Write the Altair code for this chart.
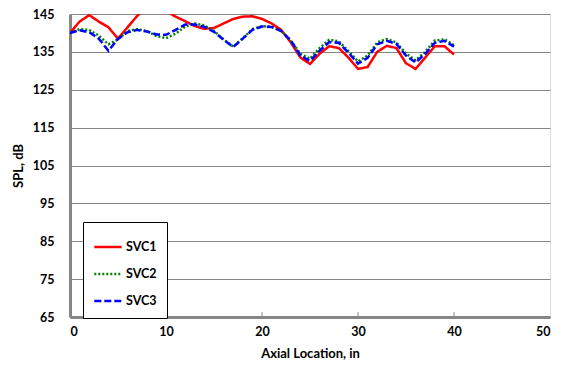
import altair as alt
import pandas as pd

axial = list(range(0, 41))

svc1 = [140, 143, 144.7, 143, 141.5, 138.5, 141.5, 144.5, 147, 147,
        145.8, 144.3, 143.1, 141.8, 141.1, 141.3, 142.5, 143.7, 144.3, 144.4,
        143.7, 142.5, 140.8, 137.5, 133.5, 131.8, 134.5, 136.5, 136, 133.5,
        130.5, 131, 135, 136.6, 136, 132, 130.5, 133.5, 136.5, 136.5, 134.3]

svc2 = [140, 141, 140.8, 139.3, 137, 138.3, 140.5, 141, 140.5, 139.2,
        138.6, 139.8, 141.7, 142.5, 142, 140.5, 138.3, 136.4, 138.6, 141,
        141.8, 141.6, 140.5, 138, 134.5, 133.2, 136, 138.2, 137.8, 135.2,
        132.5, 134, 137.5, 138.4, 137.5, 134.5, 132.8, 135, 138, 138.3, 136.8]

svc3 = [140, 140.7, 140.2, 138.5, 135.3, 138.4, 140.2, 140.8, 140.4, 139.6,
        139.5, 140.8, 142.2, 142.2, 141.6, 140.3, 138.2, 136.3, 138.5, 140.8,
        141.7, 141.6, 140.5, 138, 134, 132.6, 135.3, 137.6, 137.4, 134.8,
        131.9, 133.4, 137, 137.9, 137.1, 134, 132.2, 134.5, 137.4, 137.9, 136.4]

series_names = ["SVC1", "SVC2", "SVC3"]
series_colors = ["#FF0000", "#008000", "#0000FF"]
series_dash = [[1, 0], [2, 2], [7, 3]]

x_ticks = [0, 10, 20, 30, 40, 50]
y_ticks = [65, 75, 85, 95, 105, 115, 125, 135, 145]
inner_ticks = [10, 20, 30, 40]

rows = []
for name, vals in zip(series_names, [svc1, svc2, svc3]):
    for a, v in zip(axial, vals):
        rows.append({"Axial": a, "SPL": v, "Series": name})
df = pd.DataFrame(rows)

FONT = "Lato"

xscale = alt.Scale(domain=[0, 50], nice=False)
yscale = alt.Scale(domain=[65, 145], nice=False)

x_axis = alt.Axis(values=x_ticks, title="Axial Location, in", grid=False,
                  ticks=False, labelPadding=8, titlePadding=10,
                  labelOverlap=False,
                  domainColor="#868686", domainWidth=3,
                  labelFont=FONT, labelFontSize=12.5, labelFontWeight="bold",
                  labelColor="black", titleFont=FONT, titleFontSize=13,
                  titleFontWeight="bold", titleColor="black")
y_axis = alt.Axis(values=y_ticks, title="SPL, dB", grid=True,
                  gridColor="#868686", gridWidth=1, ticks=False,
                  labelPadding=16, titlePadding=7, labelOverlap=False,
                  domainColor="#868686", domainWidth=3,
                  labelFont=FONT, labelFontSize=12.5, labelFontWeight="bold",
                  labelColor="black", titleFont=FONT, titleFontSize=13,
                  titleFontWeight="bold", titleColor="black")

lines = alt.Chart(df).mark_line(clip=True, strokeWidth=2.5).encode(
    x=alt.X("Axial:Q", scale=xscale, axis=x_axis),
    y=alt.Y("SPL:Q", scale=yscale, axis=y_axis),
    color=alt.Color("Series:N", title=None,
                    scale=alt.Scale(domain=series_names, range=series_colors),
                    legend=alt.Legend(orient="none", legendX=13, legendY=208,
                                      fillColor="white", strokeColor="black",
                                      padding=10, symbolSize=750,
                                      symbolStrokeWidth=2.5, rowPadding=5,
                                      labelFont=FONT, labelFontSize=12.5,
                                      labelFontWeight="bold", labelColor="black",
                                      labelOffset=3)),
    strokeDash=alt.StrokeDash("Series:N", title=None,
                              scale=alt.Scale(domain=series_names, range=series_dash)),
)

tick_df = pd.DataFrame({"x": inner_ticks, "y": [65] * len(inner_ticks),
                        "y2": [66.3] * len(inner_ticks)})
ticks = alt.Chart(tick_df).mark_rule(color="#868686", strokeWidth=1).encode(
    x=alt.X("x:Q", scale=xscale, axis=x_axis),
    y=alt.Y("y:Q", scale=yscale, axis=y_axis),
    y2="y2:Q",
)

chart = alt.layer(lines, ticks).properties(
    width=480, height=303,
    autosize="none",
    padding={"left": 62, "top": 6, "right": 5, "bottom": 46},
).configure_view(stroke="black", strokeWidth=2).configure(background="white")

chart.save("out.html", embed_options={"renderer": "svg", "actions": False})
